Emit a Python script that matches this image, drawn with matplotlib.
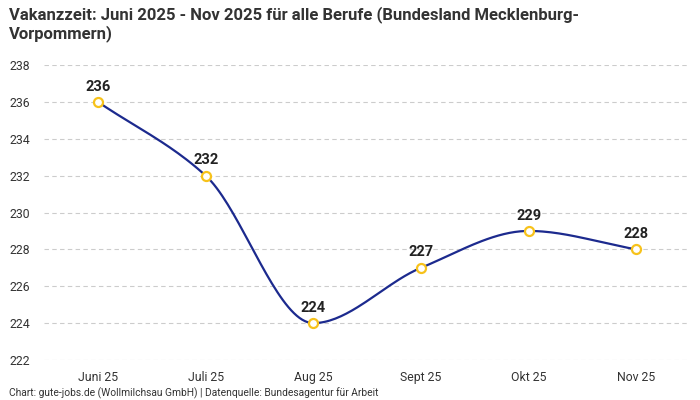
import numpy as np
import matplotlib
matplotlib.use("Agg")
import matplotlib.pyplot as plt

plt.rcParams['font.family'] = ['Roboto', 'DejaVu Sans']

months = ['Juni 25', 'Juli 25', 'Aug 25', 'Sept 25', 'Okt 25', 'Nov 25']
values = [236, 232, 224, 227, 229, 228]

title = 'Vakanzzeit: Juni 2025 - Nov 2025 für alle Berufe (Bundesland Mecklenburg-\nVorpommern)'
footer = 'Chart: gute-jobs.de (Wollmilchsau GmbH) | Datenquelle: Bundesagentur für Arbeit'


def monotone_curve(x, y, n=40):
    # Fritsch-Carlson monotone cubic, like d3 curveMonotoneX
    x = np.asarray(x, float)
    y = np.asarray(y, float)
    h = np.diff(x)
    d = np.diff(y) / h
    m = np.zeros_like(y)
    m[0] = d[0]
    m[-1] = d[-1]
    for i in range(1, len(y) - 1):
        if d[i - 1] * d[i] <= 0:
            m[i] = 0
        else:
            m[i] = (3 * (h[i - 1] + h[i])) / ((2 * h[i] + h[i - 1]) / d[i - 1] + (h[i] + 2 * h[i - 1]) / d[i])
    xs, ys = [], []
    for i in range(len(x) - 1):
        t = np.linspace(0, 1, n)
        h00 = 2 * t**3 - 3 * t**2 + 1
        h10 = t**3 - 2 * t**2 + t
        h01 = -2 * t**3 + 3 * t**2
        h11 = t**3 - t**2
        xs.append(x[i] + t * h[i])
        ys.append(h00 * y[i] + h10 * h[i] * m[i] + h01 * y[i + 1] + h11 * h[i] * m[i + 1])
    return np.concatenate(xs), np.concatenate(ys)


fig = plt.figure(figsize=(7, 4), dpi=100)
ax = fig.add_axes([0.063, 0.1, 0.923, 0.7375])

xpos = np.arange(len(months))
cx, cy = monotone_curve(xpos, values)
ax.plot(cx, cy, color='#1c2a8e', lw=1.6, zorder=3)
ax.plot(xpos, values, 'o', ms=6.5, mfc='white', mec='#f7c21b', mew=1.6, zorder=4)

for x, v in zip(xpos, values):
    ax.annotate(str(v), (x, v), xytext=(0, 6), textcoords='offset points',
                ha='center', va='bottom', fontsize=10.5, fontweight='semibold', color='#222222')

ax.set_xlim(-0.5, len(months) - 0.5)
ax.set_ylim(222, 238)
ax.set_yticks(np.arange(222, 239, 2))
ax.set_xticks(xpos)
ax.set_xticklabels(months)
ax.grid(axis='y', color='#cccccc', linestyle=(0, (4, 3)), lw=0.8)
ax.set_axisbelow(True)
for s in ax.spines.values():
    s.set_visible(False)
ax.tick_params(length=0, labelsize=8.8, colors='#333333')
ax.tick_params(axis='y', pad=10)
ax.tick_params(axis='x', pad=8)

fig.text(0.013, 0.985, title, ha='left', va='top', fontsize=12,
         fontweight='bold', color='#333333', linespacing=1.15)
fig.text(0.013, 0.0175, footer, ha='left', va='center', fontsize=7.4, color='#333333')

fig.savefig('out.png', dpi=100)
